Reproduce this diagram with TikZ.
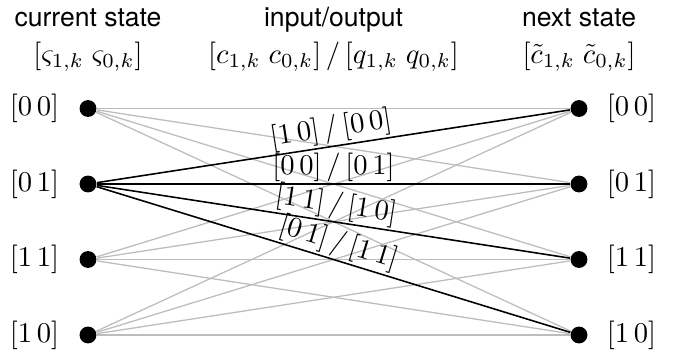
\documentclass[tikz,border=0pt]{standalone}
\usepackage{fontspec}
\newfontfamily\headfont{TeX Gyre Heros}
\usetikzlibrary{positioning}
\tikzset{
  dot/.style={circle,fill=black,inner sep=0pt,minimum size=5.9pt},
  statelbl/.style={inner sep=0pt},
  head/.style={font=\headfont\fontsize{9.3}{11}\selectfont,anchor=base,inner sep=0pt},
  sym/.style={anchor=base,inner sep=0pt},
  trans/.style={draw=black!26,line width=0.45pt},
  active/.style={draw=black,line width=0.55pt},
  edgelbl/.style={above,sloped,inner sep=0.6pt},
}

\begin{document}
\begin{tikzpicture}[x=0.35pt,y=-0.35pt]
\useasboundingbox (0,0) rectangle (680,356);

% column headings
\node[head] (hcur) at (88,26) {current state};
\node[head] (hio) at (333.5,26) {input/output};
\node[head] (hnext) at (579,26) {next state};
\node[sym] (scur) at (88,63) {$[\varsigma_{1,k}\;\varsigma_{0,k}]$};
\node[sym] (sio) at (333.5,63) {$[c_{1,k}\;c_{0,k}]\,/\,[q_{1,k}\;q_{0,k}]$};
\node[sym] (snext) at (579,63) {$[\tilde{c}_{1,k}\;\tilde{c}_{0,k}]$};

% current states
\node[dot] (c00) at (88,108.5) {};
\node[dot] (c01) at (88,184) {};
\node[dot] (c11) at (88,259.5) {};
\node[dot] (c10) at (88,335) {};
\node[statelbl] (lc00) at (34.5,108.5) {$[0\,0]$};
\node[statelbl] (lc01) at (34.5,184) {$[0\,1]$};
\node[statelbl] (lc11) at (34.5,259.5) {$[1\,1]$};
\node[statelbl] (lc10) at (34.5,335) {$[1\,0]$};

% next states
\node[dot] (n00) at (579,108.5) {};
\node[dot] (n01) at (579,184) {};
\node[dot] (n11) at (579,259.5) {};
\node[dot] (n10) at (579,335) {};
\node[statelbl] (ln00) at (631.5,108.5) {$[0\,0]$};
\node[statelbl] (ln01) at (631.5,184) {$[0\,1]$};
\node[statelbl] (ln11) at (631.5,259.5) {$[1\,1]$};
\node[statelbl] (ln10) at (631.5,335) {$[1\,0]$};

% all transitions
\draw[trans] (c00) -- (n00);
\draw[trans] (c00) -- (n01);
\draw[trans] (c00) -- (n11);
\draw[trans] (c00) -- (n10);
\draw[trans] (c11) -- (n00);
\draw[trans] (c11) -- (n01);
\draw[trans] (c11) -- (n11);
\draw[trans] (c11) -- (n10);
\draw[trans] (c10) -- (n00);
\draw[trans] (c10) -- (n01);
\draw[trans] (c10) -- (n11);
\draw[trans] (c10) -- (n10);

% transitions out of [0 1]
\draw[active] (c01) -- node[edgelbl]{$[1\,0]\,/\,[0\,0]$} (n00);
\draw[active] (c01) -- node[edgelbl]{$[0\,0]\,/\,[0\,1]$} (n01);
\draw[active] (c01) -- node[edgelbl]{$[1\,1]\,/\,[1\,0]$} (n11);
\draw[active] (c01) -- node[edgelbl]{$[0\,1]\,/\,[1\,1]$} (n10);

\end{tikzpicture}
\end{document}
